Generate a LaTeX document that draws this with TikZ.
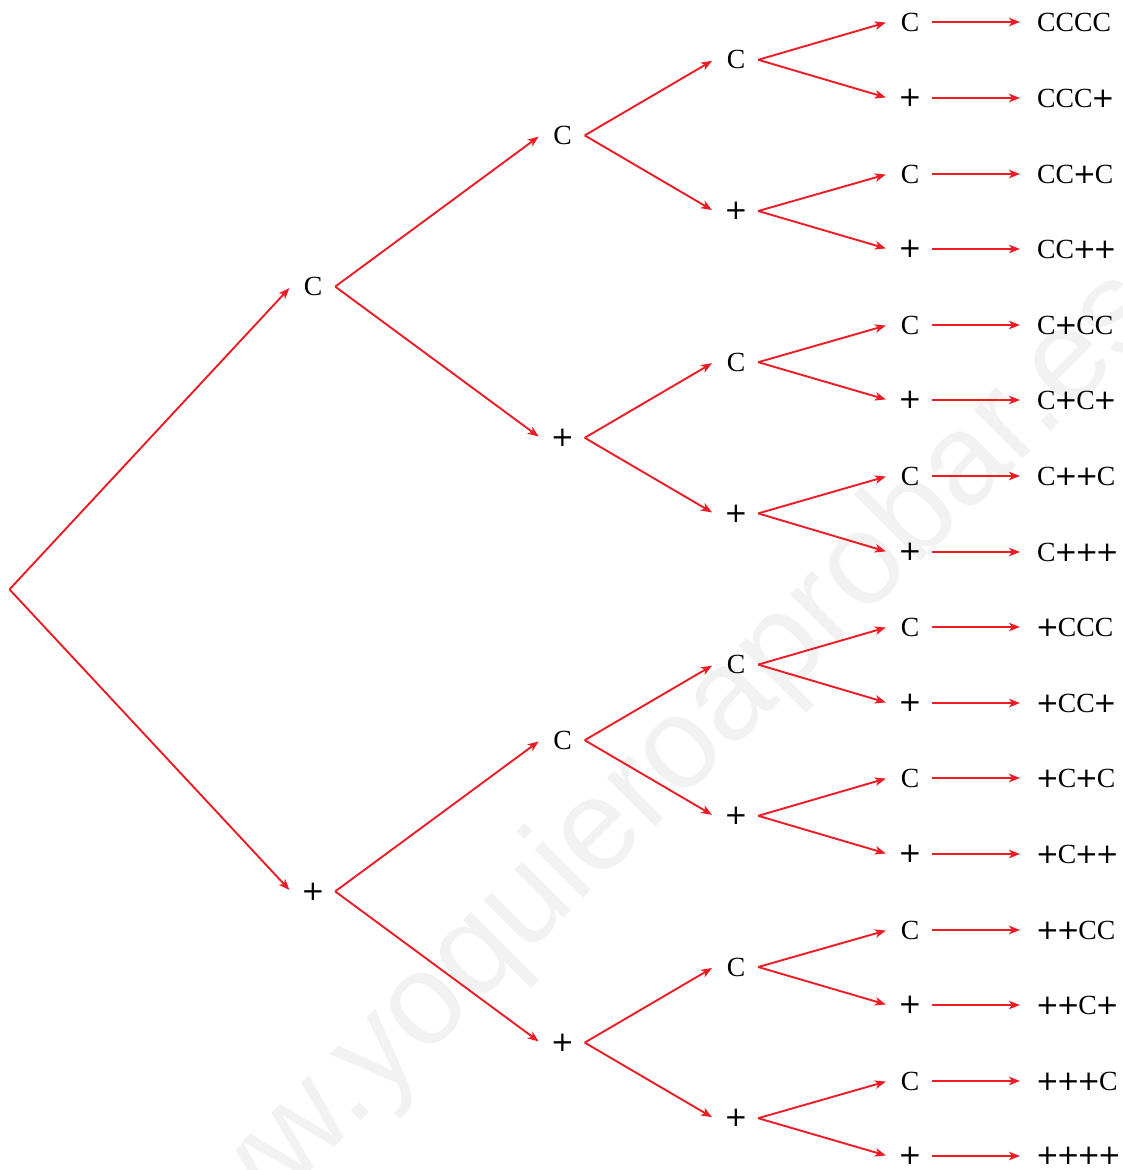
\documentclass[tikz,border=0pt]{standalone}
\usepackage{fontspec}
\usetikzlibrary{arrows.meta}
\newfontfamily\marksans{Liberation Sans}
\newfontfamily\labelserif{Liberation Serif}
\newfontfamily\plusfont{DejaVu Sans}
% the plus sign used in the labels
\newcommand\pl{\kern-1.3pt{\plusfont +}\kern-1.3pt}
\definecolor{branchred}{RGB}{237,28,36}
\definecolor{markgray}{RGB}{242,242,242}
\tikzset{
  branch/.style={draw=branchred, line width=1.9pt,
    -{Stealth[length=11pt,width=8.5pt,inset=3pt]}, shorten >=2pt},
  choice/.style={inner sep=0pt, minimum width=44pt,
    font=\labelserif\fontsize{27.7}{32}\selectfont},
  outcome/.style={anchor=west, inner ysep=0pt, inner xsep=15pt,
    font=\labelserif\fontsize{27.7}{32}\selectfont},
  watermark/.style={rotate=45, anchor=base west, inner sep=0pt, text=markgray,
    font=\marksans\fontsize{130}{130}\selectfont}
}
\begin{document}
\begin{tikzpicture}[x=1pt,y=1pt]
\path[use as bounding box, clip] (0,0) rectangle (1123,-1170);

% background watermark
\node[watermark] (mark) at (158.5,-1323.7) {www.yoquieroaprobar.es};

% root of the tree
\coordinate (root) at (9.5,-589.4);

% first toss
\foreach \k/\t in {1/C,2/\pl}
  \node[choice] (a\k) at (313,{-286.6-604.8*(\k-1)}) {\t};
% second toss
\foreach \k/\t in {1/C,2/\pl,3/C,4/\pl}
  \node[choice] (b\k) at (562.5,{-135.4-302.4*(\k-1)}) {\t};
% third toss
\foreach \k/\t in {1/C,2/\pl,3/C,4/\pl,5/C,6/\pl,7/C,8/\pl}
  \node[choice] (c\k) at (736,{-59.8-151.2*(\k-1)}) {\t};
% fourth toss and resulting outcomes
\foreach \k/\t/\r in {1/C/CCCC,2/\pl/CCC\pl,3/C/CC\pl C,4/\pl/CC\pl\pl,
                      5/C/C\pl CC,6/\pl/C\pl C\pl,7/C/C\pl\pl C,8/\pl/C\pl\pl\pl,
                      9/C/\pl CCC,10/\pl/\pl CC\pl,11/C/\pl C\pl C,12/\pl/\pl C\pl\pl,
                      13/C/\pl\pl CC,14/\pl/\pl\pl C\pl,15/C/\pl\pl\pl C,16/\pl/\pl\pl\pl\pl}{
  \pgfmathsetmacro\yrow{-round(22.4+75.6*(\k-1))}
  \node[choice] (d\k) at (910,\yrow) {\t};
  \node[outcome] (r\k) at (1022,\yrow) {\r};
}

% branches
\foreach \k in {1,2}
  \draw[branch] (root) -- (a\k.west);
\foreach \k in {1,...,4}{
  \pgfmathtruncatemacro\p{(\k+1)/2}
  \draw[branch] (a\p.east) -- (b\k.west);
}
\foreach \k in {1,...,8}{
  \pgfmathtruncatemacro\p{(\k+1)/2}
  \draw[branch] (b\p.east) -- (c\k.west);
}
\foreach \k in {1,...,16}{
  \pgfmathtruncatemacro\p{(\k+1)/2}
  \draw[branch] (c\p.east) -- (d\k.west);
  \draw[branch] (d\k.east |- r\k.west) -- (r\k.west);
}
\end{tikzpicture}
\end{document}
